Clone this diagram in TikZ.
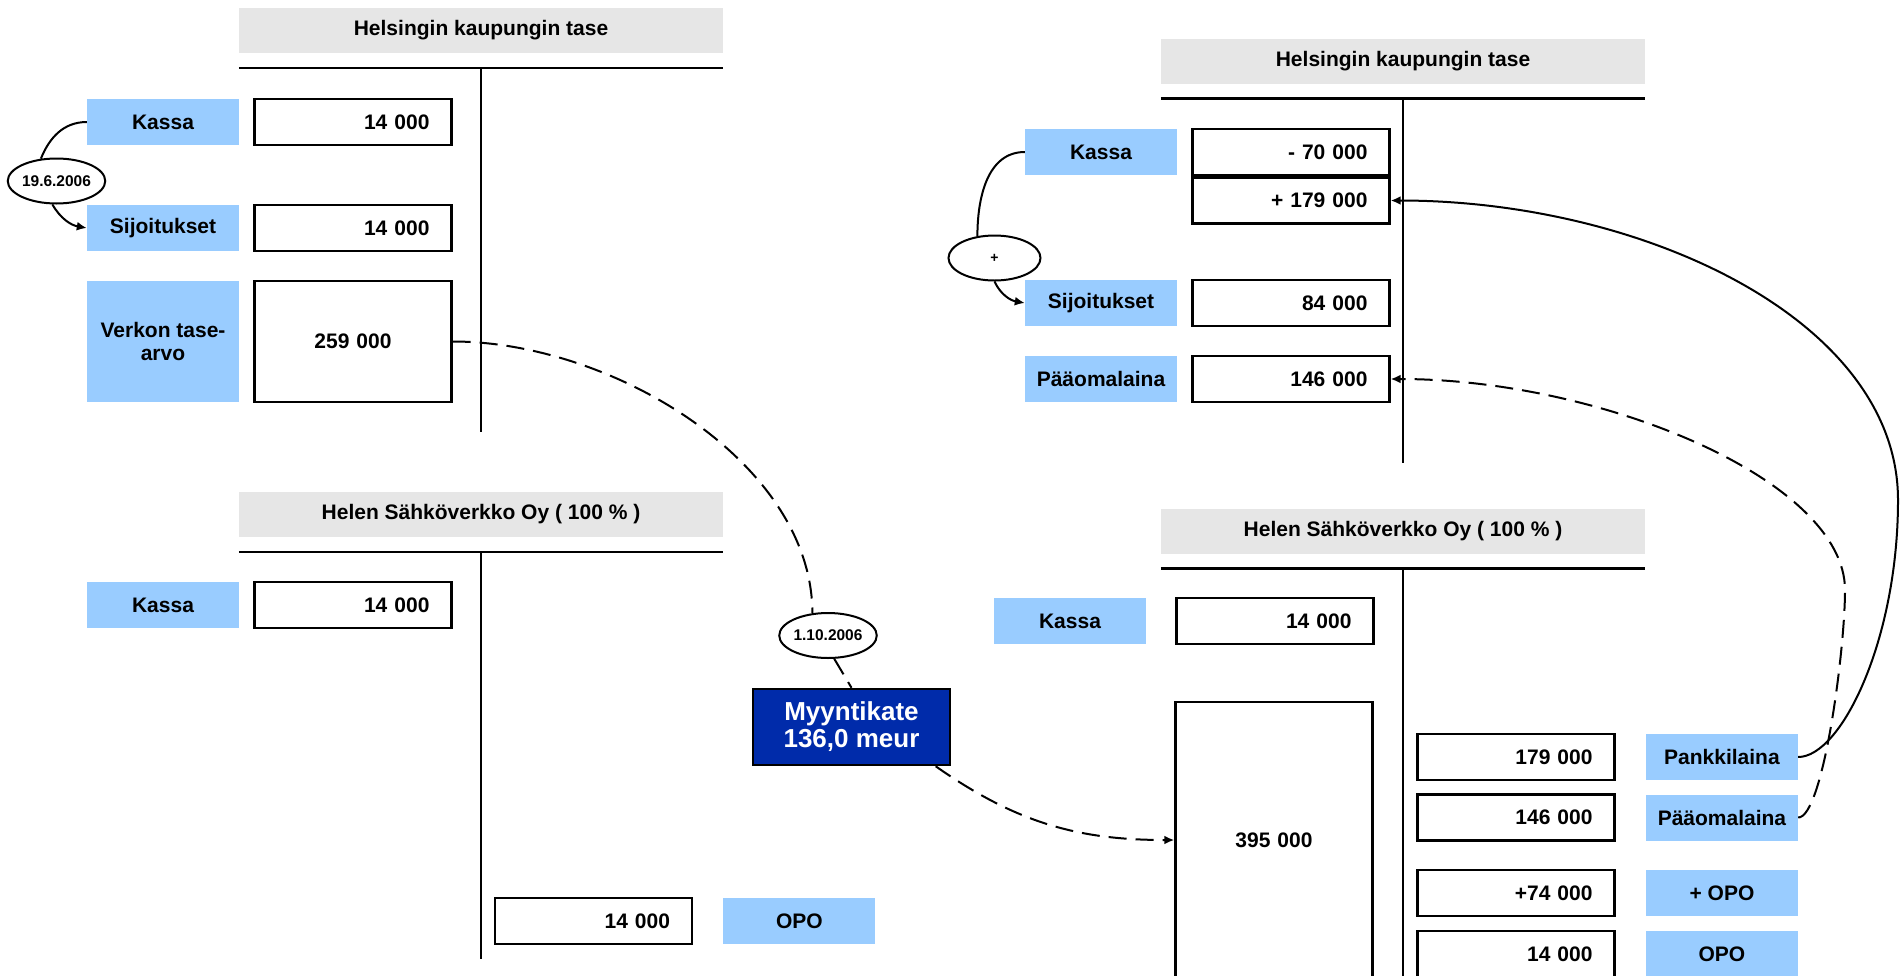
\documentclass[tikz,border=0pt]{standalone}
\usepackage{fontspec}
\setmainfont{Liberation Sans}
\usepackage{tikz}
\usetikzlibrary{shapes.geometric, arrows.meta, positioning}
\definecolor{acctblue}{RGB}{153,204,255}
\definecolor{headgray}{RGB}{230,230,230}
\definecolor{deepblue}{RGB}{0,43,170}

\begin{document}
\begin{tikzpicture}[
    x=1pt, y=-1pt,
    font=\fontsize{21}{23}\selectfont\bfseries,
    heading/.style={rectangle, fill=headgray, minimum width=484pt, minimum height=45pt, inner sep=0pt},
    acct/.style={rectangle, fill=acctblue, minimum width=152pt, minimum height=46pt, inner sep=0pt, align=center},
    amount/.style={rectangle, draw, line width=2.5pt, text width=153pt, inner xsep=22pt, inner ysep=0pt, minimum height=46pt, align=right},
    dateoval/.style={ellipse, draw, line width=2pt, minimum width=92pt, minimum height=45pt, inner sep=0pt, font=\fontsize{15.5}{17}\selectfont\bfseries},
    result/.style={rectangle, draw, line width=2.5pt, fill=deepblue, text=white, minimum width=197pt, minimum height=76pt, align=center, font=\fontsize{26}{27}\selectfont\bfseries},
    tline/.style={line width=2.5pt},
    tstem/.style={line width=2pt},
    link/.style={line width=2pt},
    move/.style={line width=2pt, -{Latex[length=10pt,width=9pt]}},
    flow/.style={line width=2pt, dash pattern=on 18pt off 9pt}
]
\useasboundingbox (0,0) rectangle (1901,975);

% kaupungin tase, ennen
\node[heading] (head1) at (481,30.5) {Helsingin kaupungin tase};
\draw[tline] ([yshift=-15pt]head1.south west) -- ([yshift=-15pt]head1.south east);
\draw[tstem] ([yshift=-15pt]head1.south) -- ++(0,364);

\node[acct] (kassa1) at (163,122) {Kassa};
\node[amount, right=14pt of kassa1] (v1kassa) {14 000};
\node[acct] (sijo1) at (163,228) {Sijoitukset};
\node[amount, right=14pt of sijo1] (v1sijo) {14 000};
\node[acct, minimum height=121pt] (verkko1) at (163,341.5) {Verkon tase-\\arvo};
\node[amount, minimum height=121pt, align=center, right=14pt of verkko1] (v1verkko) {259 000};
\node[dateoval] (date1) at (56.5,181) {19.6.2006};

\draw[link] (kassa1.west) to[out=180, in=68] (date1.125);
\draw[move] (date1.-100) to[out=-60, in=170] (sijo1.west);

% yhtio, ennen
\node[heading] (head2) at (481,514.5) {Helen Sähköverkko Oy ( 100 \% )};
\draw[tline] ([yshift=-15pt]head2.south west) -- ([yshift=-15pt]head2.south east);
\draw[tstem] ([yshift=-15pt]head2.south) -- ++(0,407);

\node[acct] (kassa2) at (163,605) {Kassa};
\node[amount, right=14pt of kassa2] (v2kassa) {14 000};
\node[amount] (v2opo) at (593.5,921) {14 000};
\node[acct, right=30pt of v2opo] (opo2) {OPO};

% myynti
\node[dateoval] (date2) at (828,635.5) {1.10.2006};
\node[result] (myynti) at (851.5,727) {Myyntikate\\136,0 meur};

% kaupungin tase, jalkeen
\node[heading] (head3) at (1403,61) {Helsingin kaupungin tase};
\draw[tline] ([yshift=-15pt]head3.south west) -- ([yshift=-15pt]head3.south east);
\draw[tstem] ([yshift=-15pt]head3.south) -- ++(0,364);

\node[acct] (kassa3) at (1101,152) {Kassa};
\node[amount, right=14pt of kassa3] (v3kassa) {- 70 000};
\node[amount, below=0pt of v3kassa] (v3lisa) {+ 179 000};
\node[dateoval, font=\fontsize{14}{16}\selectfont\bfseries] (date3) at (994.5,258) {+};
\node[acct] (sijo3) at (1101,303) {Sijoitukset};
\node[amount, right=14pt of sijo3] (v3sijo) {84 000};
\node[acct] (paa3) at (1101,379) {Pääomalaina};
\node[amount, right=14pt of paa3] (v3paa) {146 000};

\draw[link] (kassa3.west) to[out=180, in=90] (date3.128);
\draw[move] (date3.south) to[out=-65, in=170] (sijo3.west);

% yhtio, jalkeen
\node[heading] (head4) at (1403,531) {Helen Sähköverkko Oy ( 100 \% )};
\draw[tline] ([yshift=-15pt]head4.south west) -- ([yshift=-15pt]head4.south east);
\draw[tstem] ([yshift=-15pt]head4.south) -- ++(0,420);

\node[acct] (kassa4) at (1070,621) {Kassa};
\node[amount, right=29pt of kassa4] (v4kassa) {14 000};
\node[amount, minimum height=276pt, align=center] (v4verkko) at (1274,840) {395 000};
\node[amount] (v4pank) at (1516,757) {179 000};
\node[acct, right=30pt of v4pank] (pank4) {Pankkilaina};
\node[amount] (v4paa) at (1516,817.5) {146 000};
\node[acct, right=30pt of v4paa] (paa4) {Pääomalaina};
\node[amount] (v4lisa) at (1516,893) {+74 000};
\node[acct, right=30pt of v4lisa] (lisa4) {+ OPO};
\node[amount] (v4opo) at (1516,954) {14 000};
\node[acct, right=30pt of v4opo] (opo4) {OPO};

% siirrot
\draw[flow] (v1verkko.east) .. controls +(160,0) and +(0,-150) .. (date2.125);
\draw[flow] (date2.-75) -- (myynti.north);
\draw[flow, -{Latex[length=10pt,width=9pt]}] (myynti.-25) to[out=-35, in=180] (v4verkko.west);

\coordinate (pankturn) at (1898,500);
\draw[move] (pank4.east) .. controls +(43,0) and +(0,140) .. (pankturn) .. controls +(0,-180) and +(252,0) .. (v3lisa.east);

\coordinate (paaturn) at (1845,590);
\draw[flow, -{Latex[length=10pt,width=9pt]}] (paa4.east) .. controls +(25,0) and +(0,60) .. (paaturn) .. controls +(0,-110) and +(210,0) .. (v3paa.east);

\end{tikzpicture}
\end{document}
